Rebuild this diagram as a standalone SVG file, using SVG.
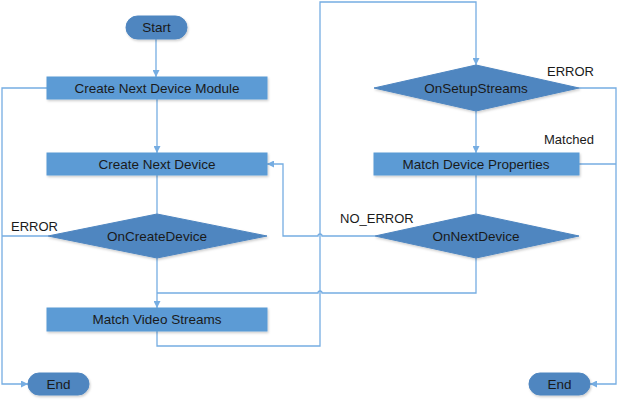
<svg xmlns="http://www.w3.org/2000/svg" width="618" height="401" viewBox="0 0 618 401">
<style>
.box{fill:#5B9BD5;stroke:#5B9BD5;stroke-width:1}
.dark{fill:#4F86C0;stroke:#4F86C0;stroke-width:1}
.t{font-family:"Liberation Sans",Arial,sans-serif;font-size:13.5px;fill:#1a1a1a;text-anchor:middle;dominant-baseline:central}
.lbl{font-family:"Liberation Sans",Arial,sans-serif;font-size:13px;fill:#1a1a1a}
.c{fill:none;stroke:#76ADE2;stroke-width:1.3}
</style>
<defs>
<marker id="ah" viewBox="0 0 10 10" refX="10" refY="5" markerWidth="7" markerHeight="7" markerUnits="userSpaceOnUse" orient="auto">
<path d="M0,0 L10,5 L0,10 z" fill="#76ADE2"/>
</marker>
<filter id="sh" x="-5%" y="-10%" width="110%" height="130%">
<feDropShadow dx="1" dy="1.5" stdDeviation="1" flood-color="#000" flood-opacity="0.2"/>
</filter>
</defs>
<g id="connectors">
<path class="c" d="M156,39 V77" marker-end="url(#ah)"/>
<path class="c" d="M157,99 V153" marker-end="url(#ah)"/>
<path class="c" d="M157,175 V214"/>
<path class="c" d="M47,88 H2 V384 H28" marker-end="url(#ah)"/>
<path class="c" d="M48,236 H2"/>
<path class="c" d="M157,258 V308" marker-end="url(#ah)"/>
<path class="c" d="M476,258 V293 H322 A2,2 0 0 0 318,293 H157"/>
<path class="c" d="M375,236 H322 A2,2 0 0 0 318,236 H283 V164 H267" marker-end="url(#ah)"/>
<path class="c" d="M157,331 V346 H320 V2 H476 V65" marker-end="url(#ah)"/>
<path class="c" d="M476,111 V153" marker-end="url(#ah)"/>
<path class="c" d="M476,175 V214"/>
<path class="c" d="M579,88 H616 V384 H590" marker-end="url(#ah)"/>
<path class="c" d="M579,164 H616"/>
</g>
<g id="start"><rect class="dark" x="126" y="16" width="61" height="23" rx="11.5" filter="url(#sh)"/><text class="t" x="156.5" y="27.5">Start</text></g>
<g id="createModule"><rect class="box" x="47" y="77" width="220" height="22" filter="url(#sh)"/><text class="t" x="157" y="88">Create Next Device Module</text></g>
<g id="createDevice"><rect class="box" x="47" y="153" width="220" height="22" filter="url(#sh)"/><text class="t" x="157" y="164">Create Next Device</text></g>
<g id="onCreateDevice"><polygon class="dark" points="48,236 157,214 267,236 157,258" filter="url(#sh)"/><text class="t" x="157" y="236">OnCreateDevice</text></g>
<g id="matchVideo"><rect class="box" x="47" y="308" width="220" height="23" filter="url(#sh)"/><text class="t" x="157" y="319.5">Match Video Streams</text></g>
<g id="endLeft"><rect class="dark" x="28" y="373" width="61" height="22" rx="11" filter="url(#sh)"/><text class="t" x="58.5" y="384">End</text></g>
<g id="onSetupStreams"><polygon class="dark" points="374,88 476,65 579,88 476,111" filter="url(#sh)"/><text class="t" x="476" y="88">OnSetupStreams</text></g>
<g id="matchProps"><rect class="box" x="374" y="153" width="205" height="22" filter="url(#sh)"/><text class="t" x="476" y="164">Match Device Properties</text></g>
<g id="onNextDevice"><polygon class="dark" points="375,236 476,214 579,236 476,258" filter="url(#sh)"/><text class="t" x="476" y="236">OnNextDevice</text></g>
<g id="endRight"><rect class="dark" x="529" y="373" width="61" height="22" rx="11" filter="url(#sh)"/><text class="t" x="559.5" y="384">End</text></g>
<g id="labels">
<text class="lbl" x="11" y="231">ERROR</text>
<text class="lbl" x="547" y="76">ERROR</text>
<text class="lbl" x="544" y="144">Matched</text>
<text class="lbl" x="340" y="223">NO_ERROR</text>
</g>
</svg>
